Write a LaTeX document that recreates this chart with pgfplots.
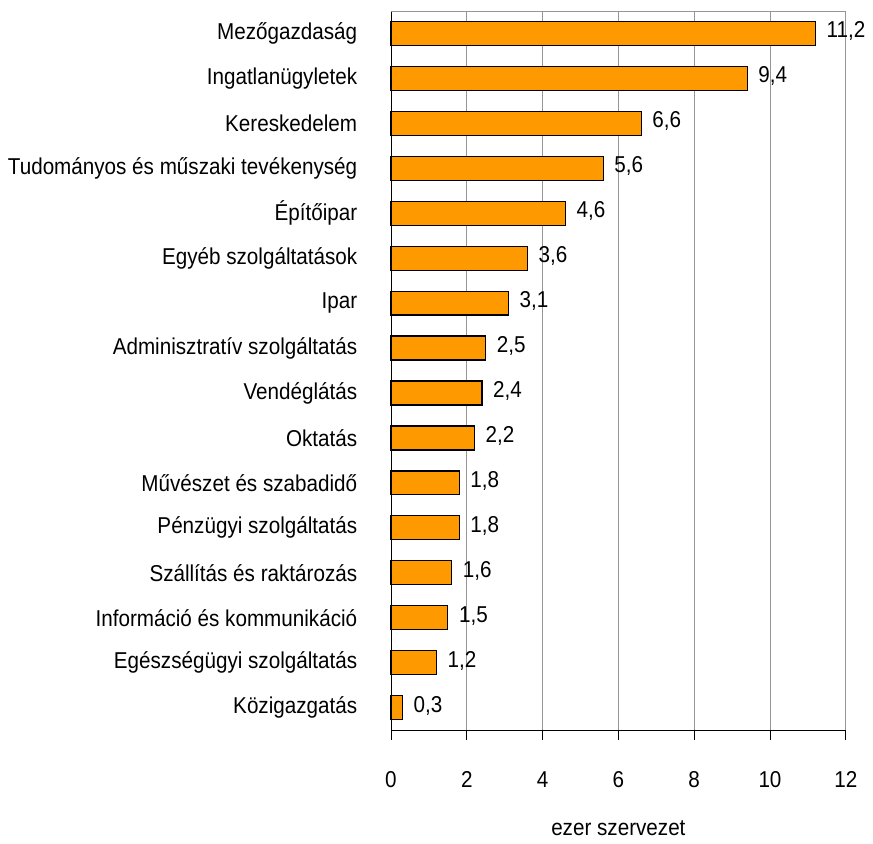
\documentclass[border=0pt]{standalone}
\usepackage{fontspec}
\setmainfont{Liberation Sans}[FakeStretch=0.9]
\usepackage{pgfplots}
\pgfplotsset{compat=1.18}
\definecolor{barorange}{RGB}{255,153,0}
\definecolor{gridgray}{RGB}{150,150,150}
\begin{document}
\fontsize{23bp}{27bp}\selectfont
\begin{tikzpicture}
\begin{axis}[
  at={(0,0)}, anchor=south west,
  scale only axis,
  width=456bp, height=721bp,
  xbar, bar width=24bp,
  xmin=0, xmax=12,
  ymin=-0.5, ymax=15.5,
  y dir=reverse,
  axis lines*=left,
  axis line style={black, line width=0.9pt},
  xtick={0,2,...,12},
  xtick align=outside,
  major tick length=10bp,
  xtick style={black, line width=0.9pt},
  ytick={0,...,15},
  ytick style={draw=none},
  yticklabels={Mezőgazdaság, Ingatlanügyletek, Kereskedelem,
    Tudományos és műszaki tevékenység, Építőipar, Egyéb szolgáltatások,
    Ipar, Adminisztratív szolgáltatás, Vendéglátás, Oktatás,
    Művészet és szabadidő, Pénzügyi szolgáltatás, Szállítás és raktározás,
    Információ és kommunikáció, Egészségügyi szolgáltatás, Közigazgatás},
  yticklabel style={xshift=-16bp},
  xticklabel style={yshift=-24bp},
  /pgf/number format/assume math mode=true,
  xmajorgrids,
  grid style={gridgray, line width=0.9pt},
  xlabel={ezer szervezet},
  xlabel style={yshift=-17bp},
  nodes near coords,
  nodes near coords style={anchor=west, xshift=3bp, yshift=2bp,
    /pgf/number format/.cd, fixed, fixed zerofill, precision=1, use comma},
  clip=false,
]
\addplot[fill=barorange, draw=black, line width=1.2pt] coordinates {
  (11.2,0) (9.4,1) (6.6,2) (5.6,3) (4.6,4) (3.6,5) (3.1,6) (2.5,7)
  (2.4,8) (2.2,9) (1.8,10) (1.8,11) (1.6,12) (1.5,13) (1.2,14) (0.3,15)
};
\draw[gridgray, line width=0.9pt] (axis cs:0,-0.5) -- (axis cs:12,-0.5);
\end{axis}
\path (-392bp,-107bp) rectangle (481bp,732bp);
\end{tikzpicture}
\end{document}
